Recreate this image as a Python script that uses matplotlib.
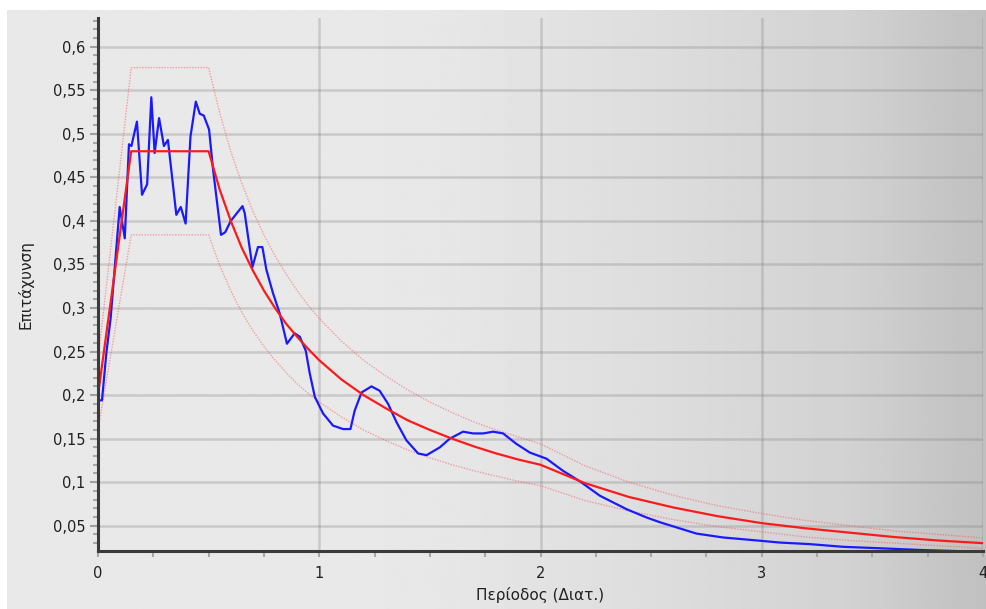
import numpy as np
import matplotlib
matplotlib.use("Agg")
import matplotlib.pyplot as plt
from matplotlib.ticker import MultipleLocator, FuncFormatter

# recorded spectrum (blue)
rec_T = [0.008, 0.018, 0.038, 0.057, 0.098, 0.121, 0.140, 0.151, 0.176, 0.199, 0.222,
         0.241, 0.256, 0.276, 0.298, 0.316, 0.354, 0.374, 0.396, 0.418, 0.442, 0.460,
         0.478, 0.502, 0.520, 0.556, 0.575, 0.600, 0.653, 0.663, 0.698, 0.723, 0.743,
         0.761, 0.791, 0.821, 0.854, 0.889, 0.912, 0.939, 0.957, 0.980, 1.017, 1.062,
         1.108, 1.141, 1.160, 1.191, 1.236, 1.273, 1.311, 1.349, 1.394, 1.447, 1.485,
         1.545, 1.590, 1.650, 1.695, 1.741, 1.786, 1.831, 1.891, 1.952, 2.027, 2.102,
         2.178, 2.268, 2.389, 2.479, 2.54, 2.705, 2.826, 2.961, 3.082, 3.217, 3.368,
         3.519, 3.715, 3.895, 4.0]
rec_S = [0.194, 0.194, 0.249, 0.288, 0.416, 0.380, 0.488, 0.486, 0.514, 0.430, 0.442,
         0.542, 0.478, 0.518, 0.486, 0.493, 0.407, 0.416, 0.397, 0.497, 0.537, 0.523,
         0.521, 0.505, 0.459, 0.384, 0.387, 0.400, 0.417, 0.409, 0.347, 0.370, 0.370,
         0.344, 0.317, 0.294, 0.259, 0.271, 0.267, 0.251, 0.225, 0.198, 0.179, 0.165,
         0.161, 0.161, 0.182, 0.203, 0.210, 0.205, 0.190, 0.169, 0.148, 0.133, 0.131,
         0.140, 0.150, 0.158, 0.156, 0.156, 0.158, 0.156, 0.144, 0.134, 0.127, 0.113,
         0.101, 0.0845, 0.069, 0.0595, 0.054, 0.041, 0.0365, 0.0335, 0.0307, 0.0289, 0.0258,
         0.0243, 0.0222, 0.0208, 0.0205]

# design spectrum (red) and upper / lower bands (dotted)
des_T = [0.0, 0.15, 0.5,
         0.55, 0.6, 0.65, 0.7, 0.75, 0.8, 0.85, 0.9, 0.95, 1.0,
         1.1, 1.2, 1.3, 1.4, 1.5, 1.6, 1.7, 1.8, 1.9, 2.0,
         2.2, 2.4, 2.6, 2.8, 3.0, 3.2, 3.4, 3.6, 3.8, 4.0]
des_S = [0.20, 0.48, 0.48,
         0.436, 0.400, 0.369, 0.343, 0.320, 0.300, 0.282, 0.267, 0.253, 0.240,
         0.218, 0.200, 0.185, 0.171, 0.160, 0.150, 0.141, 0.133, 0.126, 0.120,
         0.099, 0.083, 0.071, 0.061, 0.053, 0.047, 0.042, 0.037, 0.033, 0.030]
up_S = [0.24, 0.576, 0.576,
        0.524, 0.480, 0.443, 0.411, 0.384, 0.360, 0.339, 0.320, 0.303, 0.288,
        0.262, 0.240, 0.222, 0.206, 0.192, 0.180, 0.169, 0.160, 0.152, 0.144,
        0.119, 0.100, 0.085, 0.073, 0.064, 0.056, 0.050, 0.044, 0.040, 0.036]
low_S = [0.16, 0.384, 0.384,
         0.349, 0.320, 0.295, 0.274, 0.256, 0.240, 0.226, 0.213, 0.202, 0.192,
         0.175, 0.160, 0.148, 0.137, 0.128, 0.120, 0.113, 0.107, 0.101, 0.096,
         0.079, 0.067, 0.057, 0.049, 0.043, 0.037, 0.033, 0.030, 0.027, 0.024]

W, H = 987, 609
fig = plt.figure(figsize=(W / 100, H / 100), dpi=100, facecolor="white")

# grey gradient panel behind the chart
bg = fig.add_axes([7 / W, 0, 1 - 7 / W, (H - 10) / H])
px = np.linspace(7, W, 400)
shade = np.interp(px, [7, 420, 660, 850, W], [233, 232, 221, 210, 192]) / 255
bg.imshow(np.tile(shade, (2, 1)), cmap="gray", vmin=0, vmax=1, aspect="auto",
          extent=[0, 1, 0, 1])
bg.set_axis_off()

ax = fig.add_axes([98 / W, (H - 551) / H, (983 - 98) / W, (551 - 18) / H])
ax.set_facecolor("none")

ax.plot(des_T, up_S, color="#ff5050", lw=1.0, ls=(0, (1, 1)), alpha=0.5)
ax.plot(des_T, low_S, color="#ff5050", lw=1.0, ls=(0, (1, 1)), alpha=0.5)
ax.plot(rec_T, rec_S, color="#1a1aff", lw=1.6)
ax.plot(des_T, des_S, color="#ff1a1a", lw=1.6)

ax.set_xlim(0, 4)
ax.set_ylim(0.021, 0.633)
ax.xaxis.set_major_locator(MultipleLocator(1))
ax.xaxis.set_minor_locator(MultipleLocator(0.25))
ax.yaxis.set_major_locator(MultipleLocator(0.05))
ax.yaxis.set_minor_locator(MultipleLocator(0.01))
ax.yaxis.set_major_formatter(FuncFormatter(lambda v, p: f"{v:g}".replace(".", ",")))
ax.xaxis.set_major_formatter(FuncFormatter(lambda v, p: f"{v:g}"))

ax.grid(True, which="major", color="#808080", alpha=0.3, lw=1.8)
ax.set_axisbelow(True)

for s in ["top", "right"]:
    ax.spines[s].set_visible(False)
for s in ["left", "bottom"]:
    ax.spines[s].set_color("#3a3a3a")
    ax.spines[s].set_linewidth(2.2)

ax.tick_params(axis="y", which="major", length=6, width=1.5, color="#a0a0a0",
               labelsize=10.5, pad=3, labelcolor="#202020")
ax.tick_params(axis="y", which="minor", length=3.5, width=1.5, color="#a8a8a8")
ax.tick_params(axis="x", which="both", length=4, width=1.5, color="#a8a8a8",
               labelsize=10.5, pad=7, labelcolor="#202020")

ax.set_xlabel("Περίοδος (Διατ.)", fontsize=11, color="#202020", labelpad=4)
ax.set_ylabel("Επιτάχυνση", fontsize=11, color="#202020", labelpad=14)

fig.savefig("out.png", dpi=100, facecolor="white")
